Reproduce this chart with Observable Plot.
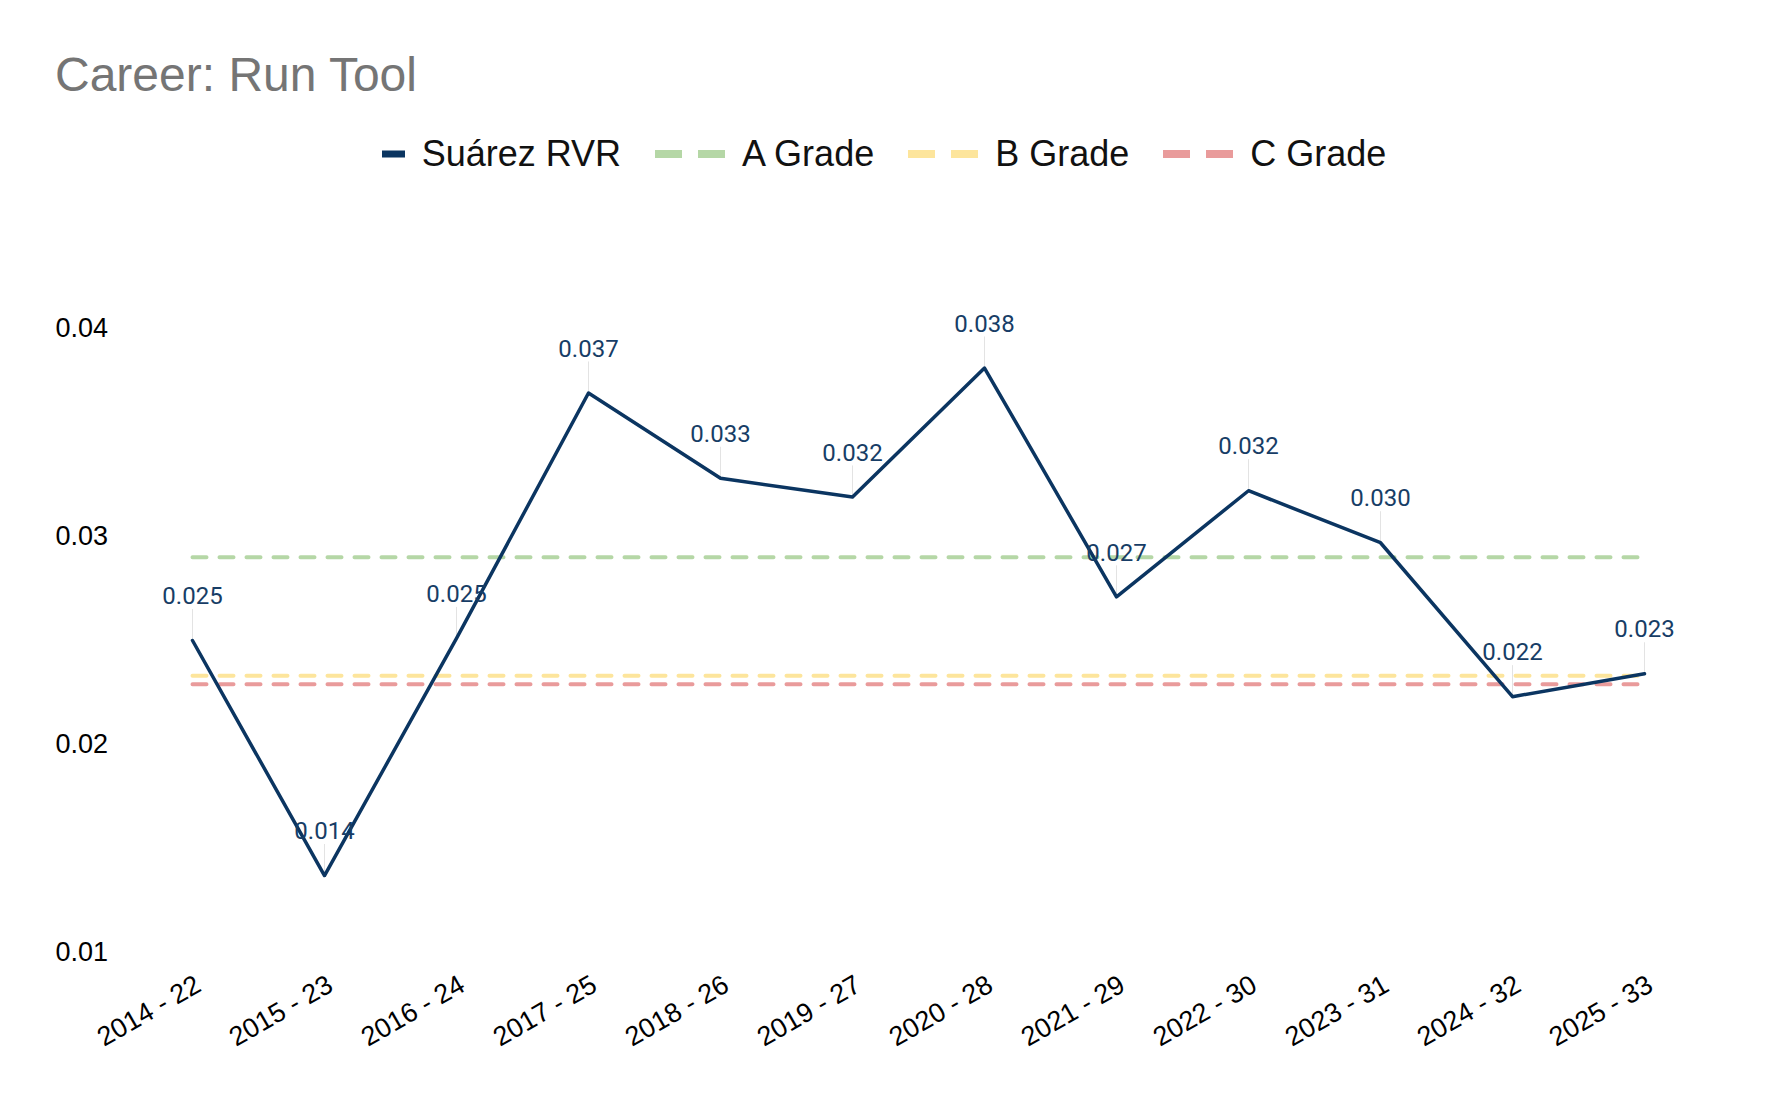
<!DOCTYPE html>
<html>
<head>
<meta charset="utf-8">
<script src="https://cdn.jsdelivr.net/npm/d3@7"></script>
<script src="https://cdn.jsdelivr.net/npm/@observablehq/plot@0.6"></script>
<style>
  html, body { margin: 0; padding: 0; background: #fff; }
  body { width: 1768px; height: 1094px; position: relative; overflow: hidden; font-family: "Liberation Sans", Arial, sans-serif; }
  #title { position: absolute; left: 55px; top: 51px; font-size: 48px; line-height: 48px; color: #757575; white-space: nowrap; }
  #legend { position: absolute; left: 0; top: 136px; width: 1768px; display: flex; justify-content: center; align-items: center; font-size: 36px; line-height: 36px; color: #111; }
  .item { display: flex; align-items: center; margin: 0 17px; }
  .item svg { margin-right: 17px; }
  #chart { position: absolute; left: 0; top: 200px; }
</style>
</head>
<body>
<div id="title">Career: Run Tool</div>
<div id="legend"></div>
<div id="chart"></div>
<script>
// ---- data ----
const seasons = ["2014 - 22", "2015 - 23", "2016 - 24", "2017 - 25", "2018 - 26", "2019 - 27",
                 "2020 - 28", "2021 - 29", "2022 - 30", "2023 - 31", "2024 - 32", "2025 - 33"];
const rvr = [0.0250, 0.0137, 0.0251, 0.0369, 0.0328, 0.0319, 0.0381, 0.0271, 0.0322, 0.0297, 0.0223, 0.0234];
const gradeNames = ["A Grade", "B Grade", "C Grade"];
const gradeValues = [0.029, 0.0233, 0.0229];
const gradeColors = ["#b5d7a6", "#fde59c", "#e99b9b"];
const seriesName = "Suárez RVR";
const seriesColor = "#0b3561";
const yTicks = [0.01, 0.02, 0.03, 0.04];

// ---- derived tables ----
const points = seasons.map((s, i) => ({season: s, value: rvr[i]}));
const gradeRows = gradeNames.flatMap((g, gi) => seasons.map(s => ({grade: g, season: s, value: gradeValues[gi]})));

// ---- legend ----
const legend = document.getElementById("legend");
function addItem(label, swatch) {
  const d = document.createElement("div");
  d.className = "item";
  d.innerHTML = swatch + `<span>${label}</span>`;
  legend.appendChild(d);
}
addItem(seriesName, `<svg width="23" height="8"><rect x="0" y="0.5" width="23" height="7" fill="${seriesColor}"/></svg>`);
gradeNames.forEach((g, i) => {
  addItem(g, `<svg width="70" height="8"><rect x="0" y="0" width="27" height="8" fill="${gradeColors[i]}"/><rect x="43" y="0" width="27" height="8" fill="${gradeColors[i]}"/></svg>`);
});

// ---- chart ----
const leaderPx = 31;
const pxPerUnit = 20800;
const chart = Plot.plot({
  width: 1768,
  height: 894,
  marginLeft: 189.5,
  marginRight: 122,
  marginTop: 128,
  marginBottom: 142,
  style: {fontFamily: "'Liberation Sans', Arial, sans-serif", fontSize: "27px", color: "#000", background: "#fff"},
  x: {type: "point", domain: seasons, padding: 0, label: null},
  y: {domain: [0.01, 0.04], label: null},
  color: {domain: gradeNames, range: gradeColors},
  marks: [
    Plot.axisY({ticks: yTicks, tickSize: 0, tickPadding: 82, tickFormat: d => String(d), label: null, fontSize: 27}),
    Plot.axisX({tickSize: 0, tickRotate: -30, tickPadding: 30, dx: 6, label: null, fontSize: 27}),
    Plot.line(gradeRows, {x: "season", y: "value", z: "grade", stroke: "grade", strokeWidth: 4, strokeDasharray: "14,13"}),
    Plot.ruleX(points, {x: "season", y1: "value", y2: d => d.value + leaderPx / pxPerUnit, stroke: "#e3e3e3", strokeWidth: 1}),
    Plot.line(points, {x: "season", y: "value", stroke: seriesColor, strokeWidth: 3.5}),
    Plot.text(points, {x: "season", y: "value", text: d => d3.format(".3f")(d.value), dy: -44, fill: "#173d66", fontSize: 24, fontFamily: "Roboto, 'Liberation Sans', sans-serif"})
  ]
});
document.getElementById("chart").appendChild(chart);
</script>
</body>
</html>
